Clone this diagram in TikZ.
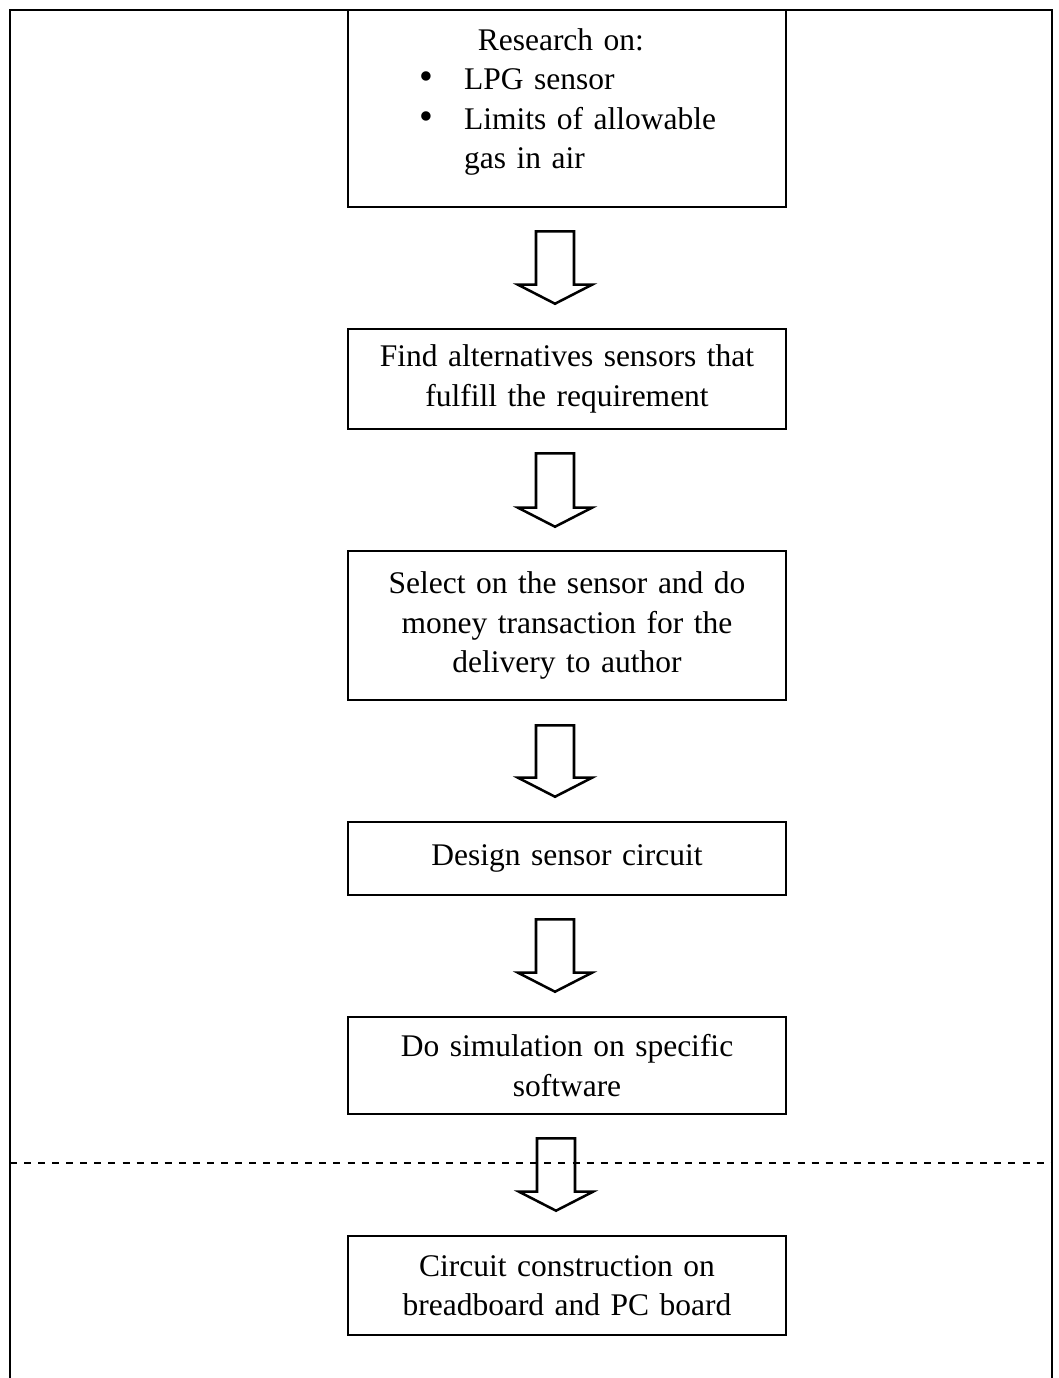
\documentclass[tikz,border=0pt]{standalone}
\usepackage{fontspec}
\setmainfont{Liberation Serif}
\usepackage{tikz}
\usetikzlibrary{positioning,calc}

\newcommand{\bigdot}{\makebox[0.56cm][l]{\fontsize{14}{14}\selectfont\textbullet}}

\begin{document}
\begin{tikzpicture}[
    x=0.0125cm, y=-0.0125cm,
    node distance=1.4925cm,
    stepbox/.style={
        rectangle,
        draw=black,
        line width=0.9pt,
        align=center,
        text width=5.19cm,
        inner xsep=4pt,
        inner ysep=0pt,
        font=\fontsize{11.2}{14}\selectfont
    },
    hollow/.style={
        draw=black,
        line width=0.9pt,
        to path={
            let \p1=(\tikztostart), \p2=(\tikztotarget) in
            (\x1-0.2375cm,\y1) -- (\x1+0.2375cm,\y1)
            -- (\x1+0.2375cm,\y2+0.2375cm) -- (\x1+0.4625cm,\y2+0.2375cm)
            -- (\x1,\y2) -- (\x1-0.4625cm,\y2+0.2375cm)
            -- (\x1-0.2375cm,\y2+0.2375cm) -- cycle
        }
    },
    frame/.style={draw=black, line width=1pt},
    cutline/.style={draw=black, line width=0.8pt, dash pattern=on 2.5pt off 2.5pt}
]
\useasboundingbox (0,0) rectangle (1058,1378);

% outer frame
\draw[frame] (10,1378) -- (10,10) -- (1052,10) -- (1052,1378);

\node[stepbox, minimum height=2.4625cm, align=left] (research) at (567,108.5)
{\hspace*{1.48cm}Research on:\\
 \hspace*{0.75cm}\bigdot LPG sensor\\
 \hspace*{0.75cm}\bigdot Limits of allowable\\
 \hspace*{1.31cm}gas in air\\[-7pt]\mbox{}};

\node[stepbox, below=of research, minimum height=1.25cm] (find)
{Find alternatives sensors that\\fulfill the requirement};

\node[stepbox, below=of find, minimum height=1.8625cm] (select)
{Select on the sensor and do\\money transaction for the\\delivery to author};

\node[stepbox, below=of select, minimum height=0.9125cm] (design)
{Design sensor circuit};

\node[stepbox, below=of design, minimum height=1.2125cm] (simulate)
{Do simulation on specific\\software};

\node[stepbox, below=of simulate, minimum height=1.2375cm] (build)
{Circuit construction on\\breadboard and PC board};

\draw[hollow] ($(research.south)+(-12,23)$) to ($(find.north)+(-12,-24)$);
\draw[hollow] ($(find.south)+(-12,23)$) to ($(select.north)+(-12,-23)$);
\draw[hollow] ($(select.south)+(-12,24)$) to ($(design.north)+(-12,-24)$);
\draw[hollow] ($(design.south)+(-12,23)$) to ($(simulate.north)+(-12,-24)$);
\draw[hollow] ($(simulate.south)+(-11,23)$) to ($(build.north)+(-11,-24)$);

% dashed separation line
\draw[cutline] (10,1163) -- (1052,1163);

\end{tikzpicture}
\end{document}
